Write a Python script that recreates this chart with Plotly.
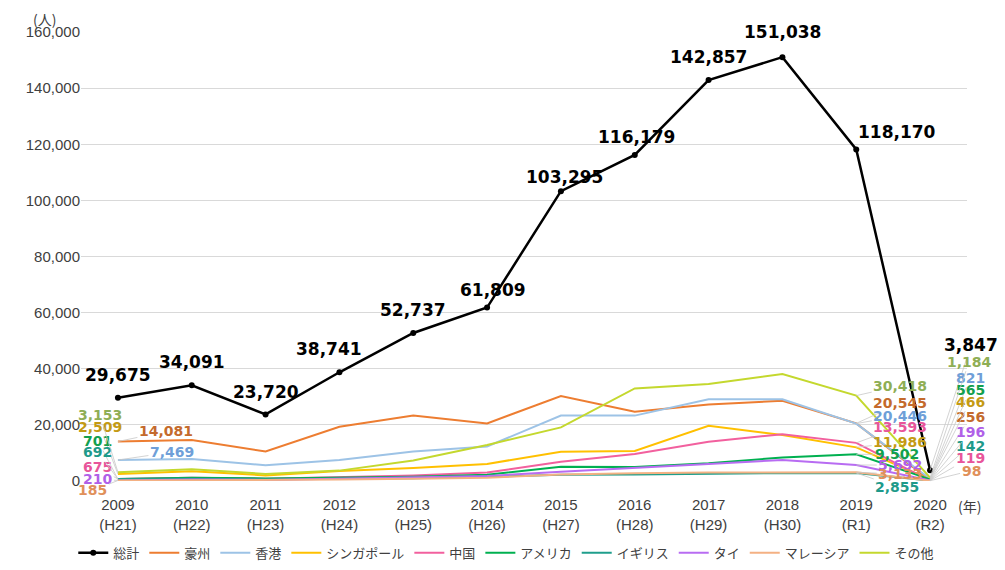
import plotly.graph_objects as go

# x categories (year + Japanese era)
YEARS = ["2009<br>(H21)", "2010<br>(H22)", "2011<br>(H23)", "2012<br>(H24)",
         "2013<br>(H25)", "2014<br>(H26)", "2015<br>(H27)", "2016<br>(H28)",
         "2017<br>(H29)", "2018<br>(H30)", "2019<br>(R1)", "2020<br>(R2)"]

TOTAL = [29675, 34091, 23720, 38741, 52737, 61809, 103295, 116179, 142857, 151038, 118170, 3847]

AUSTRALIA = [14081, 14600, 10500, 19300, 23300, 20500, 30300, 24700, 27300, 28600, 20545, 256]
HONG_KONG = [7469, 7800, 5600, 7500, 10500, 12300, 23300, 23300, 29100, 29100, 20446, 821]
SINGAPORE = [2509, 3500, 2000, 3600, 4600, 6100, 10400, 10700, 19700, 16400, 11986, 466]
CHINA = [675, 1200, 800, 1500, 2000, 3000, 6900, 9600, 14000, 16700, 13593, 119]
USA = [701, 1200, 900, 1200, 1500, 2200, 5100, 5000, 6300, 8400, 9502, 565]
UK = [692, 800, 600, 800, 1000, 1500, 2200, 2300, 2600, 2800, 2855, 142]
THAILAND = [210, 500, 400, 800, 1200, 1800, 3300, 4600, 6100, 7500, 5692, 196]
MALAYSIA = [185, 300, 300, 500, 800, 1200, 2300, 2800, 3000, 3100, 3133, 98]
OTHERS = [3153, 4200, 2500, 3700, 7300, 12800, 19100, 33000, 34600, 38100, 30418, 1184]

# name, values, line colour, label colour
SERIES = [
    ("豪州", AUSTRALIA, "#ED7D31", "#C46A2C"),
    ("香港", HONG_KONG, "#9DC3E6", "#6F9FD8"),
    ("シンガポール", SINGAPORE, "#FFC000", "#C49A14"),
    ("中国", CHINA, "#F2609E", "#E8559A"),
    ("アメリカ", USA, "#00B050", "#13A04E"),
    ("イギリス", UK, "#1F9E8C", "#1E9A8A"),
    ("タイ", THAILAND, "#B86CF2", "#B060E8"),
    ("マレーシア", MALAYSIA, "#F4B183", "#E0905A"),
    ("その他", OTHERS, "#C4D82E", "#8FAE55"),
]

# label offsets in px (ax, ay) for 2009 / 2019 / 2020 end labels
OFF_2009 = {"豪州": (48, -10), "香港": (54, -8), "その他": (-18, -57), "シンガポール": (-18, -47),
            "アメリカ": (-20, -38), "イギリス": (-20, -27), "中国": (-20, -12), "タイ": (-20, -1),
            "マレーシア": (-25, 10)}
OFF_2019 = {"その他": (44, -10), "豪州": (44, -20), "香港": (44, -8), "中国": (44, -16),
            "シンガポール": (44, -5), "アメリカ": (41, 0), "タイ": (44, 0), "マレーシア": (44, 2),
            "イギリス": (41, 14)}
OFF_2020 = {"その他": (39, -116), "香港": (40, -101), "アメリカ": (40, -89), "シンガポール": (40, -78),
            "豪州": (40, -63), "タイ": (40, -48), "イギリス": (40, -35), "中国": (40, -23),
            "マレーシア": (41, -10)}
# total label shifts (xshift, yshift)
TOTAL_SHIFT = [(0, 23), (0, 23), (0, 22), (-10, 23), (0, 23), (6, 18),
               (4, 14), (2, 18), (0, 23), (0, 25), (41, 17), (41, 125)]

LABEL_FONT = "DejaVu Sans, Verdana, sans-serif"

fig = go.Figure()

fig.add_trace(go.Scatter(
    x=YEARS, y=TOTAL, name="総計", mode="lines+markers",
    line=dict(color="#000000", width=2.5),
    marker=dict(size=6, color="#000000"),
))

for name, vals, color, _ in SERIES:
    fig.add_trace(go.Scatter(
        x=YEARS, y=vals, name=name, mode="lines",
        line=dict(color=color, width=2),
    ))

annotations = []

for i, v in enumerate(TOTAL):
    dx, dy = TOTAL_SHIFT[i]
    ann = dict(x=YEARS[i], y=v, text=f"{v:,}",
               font=dict(family=LABEL_FONT, size=17, color="#000000", weight="bold"))
    if i == len(TOTAL) - 1:
        ann.update(showarrow=True, ax=dx, ay=-dy, arrowhead=0, arrowwidth=0.8,
                   arrowcolor="#C8C8C8", standoff=0)
    else:
        ann.update(showarrow=False, xshift=dx, yshift=dy)
    annotations.append(ann)

for name, vals, _, lcolor in SERIES:
    for idx, offs in ((0, OFF_2009), (10, OFF_2019), (11, OFF_2020)):
        ax, ay = offs[name]
        annotations.append(dict(
            x=YEARS[idx], y=vals[idx], text=f"{vals[idx]:,}",
            showarrow=True, ax=ax, ay=ay, arrowhead=0, arrowwidth=0.8,
            arrowcolor="#C8C8C8", standoff=0,
            font=dict(family=LABEL_FONT, size=14, color=lcolor, weight="bold"),
        ))

annotations.append(dict(xref="paper", yref="paper", x=-0.041, y=1.0, yshift=13,
                        xanchor="center", yanchor="middle",
                        text="(人)", showarrow=False,
                        font=dict(family="Noto Sans CJK JP", size=14, color="#404040")))
annotations.append(dict(xref="paper", yref="paper", x=0.988, y=0, yshift=-25,
                        xanchor="left", yanchor="middle", text="(年)", showarrow=False,
                        font=dict(family="Noto Sans CJK JP", size=14, color="#404040")))

# page body has an 8px margin, so the figure is sized/offset to compensate
fig.update_layout(
    width=997,
    height=562,
    margin=dict(l=73, r=38, t=24, b=89, autoexpand=False),
    plot_bgcolor="#FFFFFF",
    paper_bgcolor="#FFFFFF",
    font=dict(family="Liberation Sans, Arial, sans-serif", size=15, color="#404040"),
    annotations=annotations,
    showlegend=True,
    legend=dict(
        orientation="h", x=0.48, xanchor="center", y=-0.16, yanchor="middle",
        font=dict(family="Noto Sans CJK JP", size=13, color="#404040"),
        itemwidth=30, tracegroupgap=0,
    ),
    xaxis=dict(type="category", range=[-0.5, 11.5], showgrid=False, zeroline=False,
               showline=False, ticks="", ticklabelstandoff=13,
               tickfont=dict(size=15, color="#404040")),
    yaxis=dict(range=[0, 160000], dtick=20000, tickformat=",", gridcolor="#D9D9D9",
               gridwidth=1, zeroline=False, showline=False, ticks="",
               tickfont=dict(size=15, color="#404040")),
)

fig.write_html("out.html")
